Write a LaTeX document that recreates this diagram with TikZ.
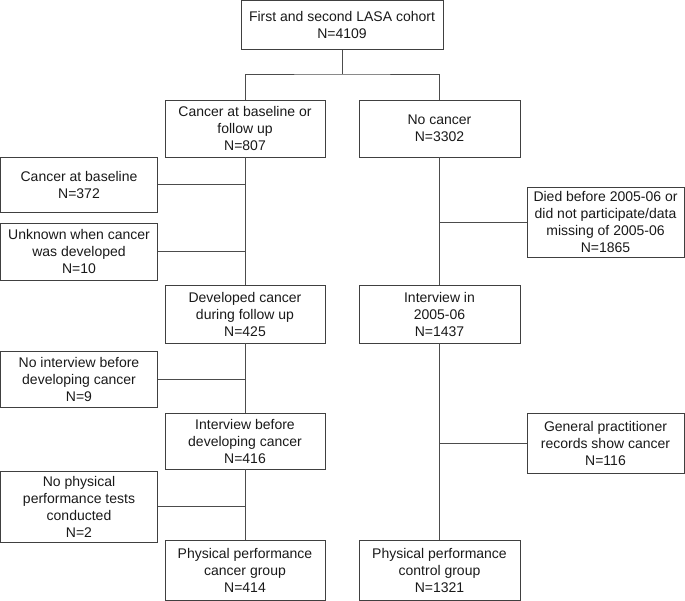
\documentclass[tikz,border=0pt]{standalone}
\usepackage{fontspec}
\setmainfont{Liberation Sans}
\begin{document}
\begin{tikzpicture}[x=1pt,y=-1pt,
  box/.style={draw=black!75, line width=0.9pt, align=center, inner sep=1pt,
    font=\fontsize{14}{17}\selectfont, text=black!90},
  conn/.style={draw=black!70, line width=0.9pt}]
\useasboundingbox (0,0) rectangle (685,601);
\node[box, minimum width=202pt, minimum height=49pt] (top) at (342,25) {First and second LASA cohort\\N=4109};
\node[box, minimum width=160pt, minimum height=57pt] (cb) at (245,128.5) {Cancer at baseline or\\follow up\\N=807};
\node[box, minimum width=161pt, minimum height=57pt] (nc) at (439.5,128.5) {No cancer\\N=3302};
\node[box, minimum width=157pt, minimum height=55pt] (cab) at (79,184.5) {Cancer at baseline\\N=372};
\node[box, minimum width=157pt, minimum height=57pt] (unk) at (79,251.5) {Unknown when cancer\\was developed\\N=10};
\node[box, minimum width=157pt, minimum height=70pt] (died) at (605.5,222) {Died before 2005-06 or\\did not participate/data\\missing of 2005-06\\N=1865};
\node[box, minimum width=160pt, minimum height=58pt] (dev) at (245,314) {Developed cancer\\during follow up\\N=425};
\node[box, minimum width=161pt, minimum height=58pt] (int) at (439.5,314) {Interview in\\2005-06\\N=1437};
\node[box, minimum width=157pt, minimum height=56pt] (noint) at (79,379) {No interview before\\developing cancer\\N=9};
\node[box, minimum width=160pt, minimum height=56pt] (intb) at (245,441) {Interview before\\developing cancer\\N=416};
\node[box, minimum width=157pt, minimum height=60pt] (gp) at (605.5,443) {General practitioner\\records show cancer\\N=116};
\node[box, minimum width=157pt, minimum height=71pt] (noph) at (79,506.5) {No physical\\performance tests\\conducted\\N=2};
\node[box, minimum width=160pt, minimum height=60pt] (ppc) at (245,570.5) {Physical performance\\cancer group\\N=414};
\node[box, minimum width=161pt, minimum height=60pt] (ppk) at (439.5,570.5) {Physical performance\\control group\\N=1321};
\coordinate (sp) at (342,74);
\draw[conn] (top.south) -- (sp);
\draw[conn] (cb.north) |- (sp) -| (nc.north);
\draw[conn] (cb.south) -- (dev.north);
\draw[conn] (dev.south) -- (intb.north);
\draw[conn] (intb.south) -- (ppc.north);
\draw[conn] (nc.south) -- (int.north);
\draw[conn] (int.south) -- (ppk.north);
\draw[conn] (cab.east) -- (cab.east -| cb.south);
\draw[conn] (unk.east) -- (unk.east -| cb.south);
\draw[conn] (noint.east) -- (noint.east -| dev.south);
\draw[conn] (noph.east) -- (noph.east -| intb.south);
\draw[conn] (died.west) -- (died.west -| nc.south);
\draw[conn] (gp.west) -- (gp.west -| int.south);
\end{tikzpicture}
\end{document}
